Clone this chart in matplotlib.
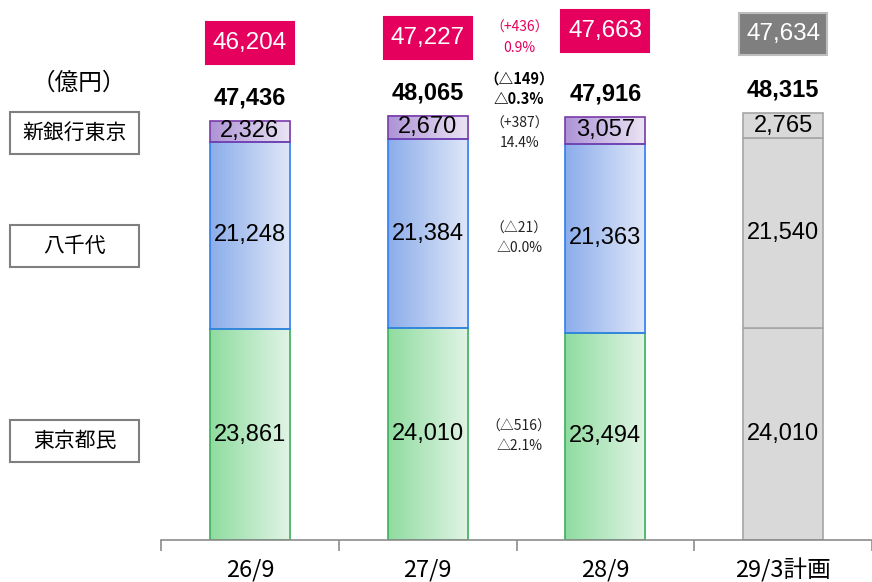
import numpy as np
import matplotlib
matplotlib.use("Agg")
import matplotlib.pyplot as plt
from matplotlib.patches import Rectangle
from matplotlib.colors import to_rgb

# ---------------------- Data ----------------------
categories = ["26/9", "27/9", "28/9", "29/3計画"]
series_names = ["東京都民", "八千代", "新銀行東京"]
tomin = [23861, 24010, 23494, 24010]
yachiyo = [21248, 21384, 21363, 21540]
shingin = [2326, 2670, 3057, 2765]
totals = [47436, 48065, 47916, 48315]
box_values = [46204, 47227, 47663, 47634]
plan_flags = [False, False, False, True]

# change notes between 27/9 and 28/9 (top to bottom)
change_top = ["（+436）", "0.9%"]
change_total = ["（△149）", "△0.3%"]
change_seg = [["（△516）", "△2.1%"], ["（△21）", "△0.0%"], ["（+387）", "14.4%"]]

# ---------------------- Style ----------------------
W, H, DPI = 872, 582, 100
JP = ["Noto Sans CJK JP", "DejaVu Sans"]
NUM = ["Liberation Sans", "DejaVu Sans"]
PINK = "#e4005c"

grads = [("#8fdca0", "#e2f4e6", "#3cb05c"),
         ("#8cadeb", "#e0e7f8", "#2f7ff0"),
         ("#ad94d6", "#ebe4f4", "#7a3aaa")]
plan_face, plan_edge = "#d9d9d9", "#a6a6a6"

fig = plt.figure(figsize=(W / DPI, H / DPI), dpi=DPI)
px_per_unit = 0.00883
step = 179.5
ax = fig.add_axes([161 / W, 42 / H, (W - 161) / W, 540 / H])
ax.set_xlim(-0.5, -0.5 + (W - 161) / step)
ax.set_ylim(0, 540 / px_per_unit)

def px(n):
    return n / px_per_unit

bar_w = 81 / step
layers = [tomin, yachiyo, shingin]
for i in range(len(categories)):
    bottom = 0
    for k, vals in enumerate(layers):
        v = vals[i]
        x0 = i - bar_w / 2
        if plan_flags[i]:
            ax.add_patch(Rectangle((x0, bottom), bar_w, v, facecolor=plan_face,
                                   edgecolor=plan_edge, lw=1.2, zorder=2))
        else:
            c0, c1, ec = grads[k]
            t = np.linspace(0, 1, 64)[None, :, None]
            img = (1 - t) * np.array(to_rgb(c0)) + t * np.array(to_rgb(c1))
            ax.imshow(img, extent=[x0, x0 + bar_w, bottom, bottom + v],
                      aspect="auto", interpolation="bilinear", zorder=1)
            ax.add_patch(Rectangle((x0, bottom), bar_w, v, fill=False,
                                   edgecolor=ec, lw=1.2, zorder=2))
        ax.text(i, bottom + v / 2, f"{v:,}", ha="center", va="center",
                fontsize=17, family=NUM, zorder=3)
        bottom += v
    # total label
    ax.text(i, totals[i] + px(23), f"{totals[i]:,}", ha="center", va="center",
            fontsize=17, fontweight="bold", family=NUM)

# boxed figures above the bars
box_lift = [78, 77.5, 85.5, 79]
for i, bv in enumerate(box_values):
    cy = totals[i] + px(box_lift[i])
    bw, bh = 89 / step, px(42)
    if plan_flags[i]:
        fc, ec = "#7f7f7f", "#bdbdbd"
    else:
        fc, ec = PINK, PINK
    ax.add_patch(Rectangle((i - bw / 2, cy - bh / 2), bw, bh, facecolor=fc,
                           edgecolor=ec, lw=1.5, zorder=2, clip_on=False))
    ax.text(i, cy, f"{bv:,}", ha="center", va="center", color="white",
            fontsize=17.5, family=NUM, zorder=3)

# change annotations next to 28/9 bar
xn = 1.515
j = 2
mids = [tomin[j] / 2, tomin[j] + yachiyo[j] / 2, tomin[j] + yachiyo[j] + shingin[j] / 2 - px(3)]
for (l1, l2), m in zip(change_seg, mids):
    ax.text(xn, m + px(10), l1, ha="center", va="center", fontsize=10, family=JP, color="#222222")
    ax.text(xn, m - px(10), l2, ha="center", va="center", fontsize=10, family=JP, color="#222222")
mt = totals[j] + px(28)
ax.text(xn, mt + px(10), change_total[0], ha="center", va="center", fontsize=10.5,
        fontweight="bold", family=JP)
ax.text(xn, mt - px(10), change_total[1], ha="center", va="center", fontsize=10.5,
        fontweight="bold", family=JP)
mb = totals[j] + px(79)
ax.text(xn, mb + px(10), change_top[0], ha="center", va="center", fontsize=10, family=JP, color=PINK)
ax.text(xn, mb - px(10), change_top[1], ha="center", va="center", fontsize=10, family=JP, color=PINK)

# axis
for s in ["left", "top", "right"]:
    ax.spines[s].set_visible(False)
ax.spines["bottom"].set_color("#8c8c8c")
ax.spines["bottom"].set_linewidth(1.2)
ax.set_yticks([])
ax.set_xticks(range(len(categories)))
ax.set_xticklabels(categories, fontsize=17, family=JP)
ax.tick_params(axis="x", which="major", length=0, pad=13)
ax.set_xticks([i - 0.5 for i in range(len(categories) + 1)], minor=True)
ax.tick_params(axis="x", which="minor", length=8, color="#8c8c8c", width=1.2)

# series name boxes on the left
label_y = [441, 246, 132.5]
for name, yc in zip(series_names, label_y):
    fig.add_artist(Rectangle((10 / W, 1 - (yc + 21) / H), 129 / W, 42 / H,
                             transform=fig.transFigure, facecolor="white",
                             edgecolor="#7f7f7f", lw=1.5))
    fig.text(74.5 / W, 1 - yc / H, name, ha="center", va="center",
             fontsize=15, family=JP)

fig.text(79 / W, 1 - 83 / H, "（億円）", ha="center", va="center", fontsize=17, family=JP)

fig.savefig("out.png", dpi=DPI)
